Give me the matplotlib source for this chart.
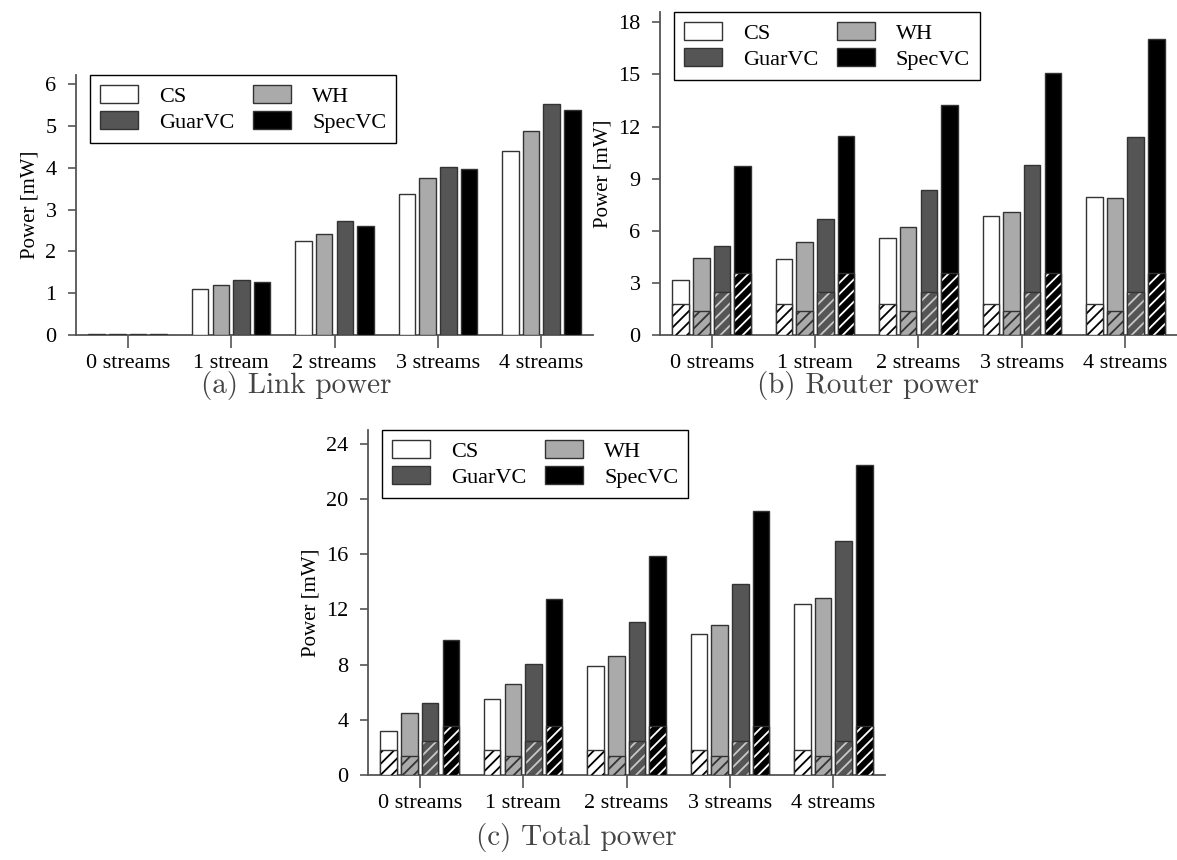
import matplotlib
matplotlib.use('Agg')
import matplotlib.pyplot as plt
import numpy as np

plt.rcParams['font.family'] = ['Liberation Serif', 'DejaVu Serif']
plt.rcParams['hatch.linewidth'] = 1.3

streams = ['0 streams', '1 stream', '2 streams', '3 streams', '4 streams']
schemes = ['CS', 'WH', 'GuarVC', 'SpecVC']
fills = ['white', '#aaaaaa', '#555555', 'black']
hatch_cols = ['black', '#333333', '#c8c8c8', 'white']

# link power (mW)
link_cs = [0.02, 1.10, 2.26, 3.38, 4.39]
link_wh = [0.02, 1.20, 2.42, 3.76, 4.87]
link_guar = [0.02, 1.32, 2.72, 4.02, 5.52]
link_spec = [0.02, 1.27, 2.61, 3.97, 5.38]

# router power (mW)
router_cs = [3.19, 4.38, 5.56, 6.83, 7.92]
router_wh = [4.45, 5.37, 6.19, 7.09, 7.90]
router_guar = [5.14, 6.67, 8.32, 9.79, 11.40]
router_spec = [9.75, 11.45, 13.25, 15.10, 17.06]

# total power (mW)
total_cs = [3.22, 5.52, 7.89, 10.23, 12.36]
total_wh = [4.48, 6.60, 8.66, 10.89, 12.80]
total_guar = [5.20, 8.03, 11.10, 13.84, 16.94]
total_spec = [9.80, 12.75, 15.90, 19.11, 22.45]

# hatched (static) part of router power, same for every stream count
static = [1.78, 1.40, 2.50, 3.55]

fig = plt.figure(figsize=(11.77, 8.6), dpi=100)
ax_a = fig.add_axes([0.0646, 0.6105, 0.4393, 0.3023])
ax_b = fig.add_axes([0.5607, 0.6105, 0.4393, 0.3756])
ax_c = fig.add_axes([0.3127, 0.0988, 0.4393, 0.4012])

x = np.arange(len(streams))
offsets = [-0.3, -0.1, 0.1, 0.3]
w = 0.16
edge = '#333333'
spine_col = '#555555'


def style(ax, ymax, yticks):
    for s in ['top', 'right']:
        ax.spines[s].set_visible(False)
    for s in ['left', 'bottom']:
        ax.spines[s].set_color(spine_col)
        ax.spines[s].set_linewidth(1.3)
    ax.tick_params(colors='black', labelsize=16, width=1.2, color=spine_col)
    ax.tick_params(axis='y', length=6, pad=8)
    ax.tick_params(axis='x', length=9, pad=4.5)
    ax.set_xlim(-0.5, 4.5)
    ax.set_ylim(0, ymax)
    ax.set_yticks(yticks)
    ax.set_xticks(x)
    ax.set_xticklabels(streams)
    ax.set_ylabel('Power [mW]', fontsize=15, labelpad=4)
    hs, ls = ax.get_legend_handles_labels()
    order = [0, 2, 1, 3]
    ax.legend([hs[k] for k in order], [ls[k] for k in order],
              ncol=2, loc='upper left', bbox_to_anchor=(0.027, 1.0),
              fontsize=16, frameon=True, fancybox=False, framealpha=1,
              edgecolor='black', handlelength=1.7, handleheight=0.85,
              handletextpad=0.95, columnspacing=0.85, labelspacing=0.2,
              borderpad=0.45, borderaxespad=0.0)


def draw(ax, series, hatched):
    for i in range(4):
        ax.bar(x + offsets[i], series[i], w, color=fills[i], edgecolor=edge,
               linewidth=1.0, label=schemes[i], zorder=3)
        if hatched:
            h = [static[i]] * len(streams)
            ax.bar(x + offsets[i], h, w, color=fills[i],
                   edgecolor=hatch_cols[i], linewidth=0, hatch='///', zorder=4)
            ax.bar(x + offsets[i], h, w, fill=False, edgecolor=edge,
                   linewidth=1.0, zorder=5)


draw(ax_a, [link_cs, link_wh, link_guar, link_spec], False)
style(ax_a, 6.22, range(0, 7, 1))

draw(ax_b, [router_cs, router_wh, router_guar, router_spec], True)
style(ax_b, 18.6, range(0, 19, 3))

draw(ax_c, [total_cs, total_wh, total_guar, total_spec], True)
style(ax_c, 25.0, range(0, 25, 4))

cap = dict(family='cmr10', fontsize=21, color='#444444', ha='center', va='center')
fig.text(296 / 1177, 1 - 385 / 860, '(a) Link power', **cap)
fig.text(868 / 1177, 1 - 385 / 860, '(b) Router power', **cap)
fig.text(576 / 1177, 1 - 838 / 860, '(c) Total power', **cap)

fig.savefig('out.png', dpi=100)
